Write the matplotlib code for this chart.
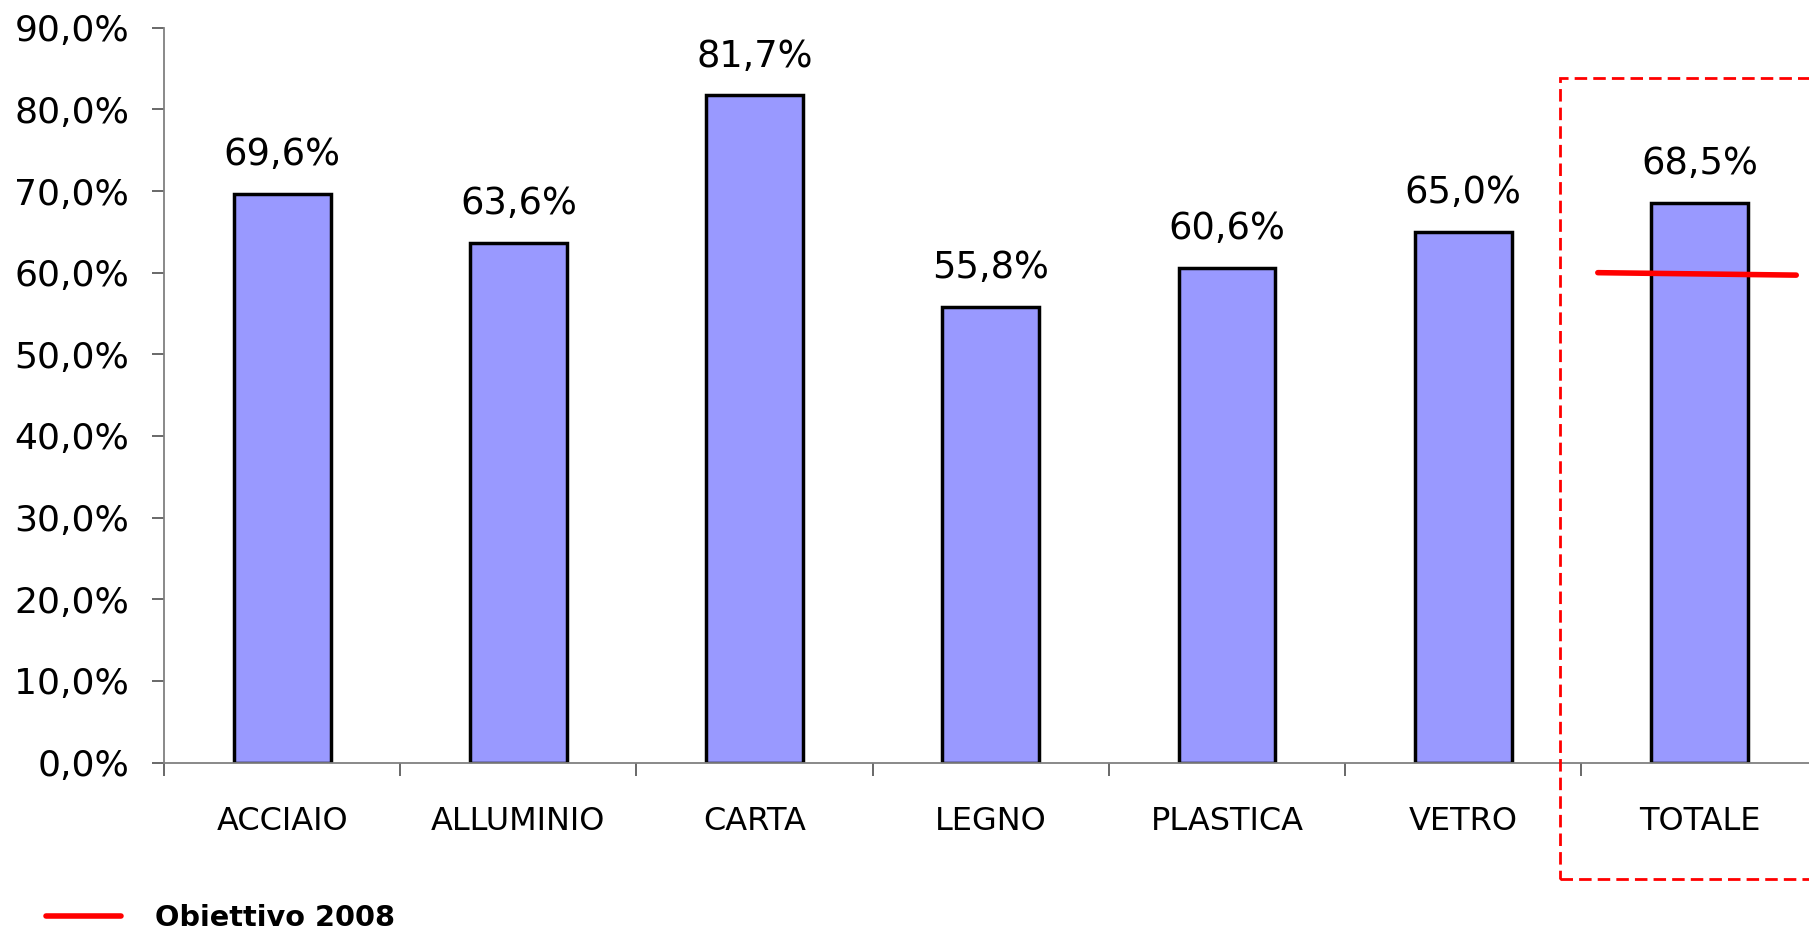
import matplotlib
matplotlib.use('Agg')
import matplotlib.pyplot as plt
from matplotlib.patches import Rectangle

categories = ['ACCIAIO', 'ALLUMINIO', 'CARTA', 'LEGNO', 'PLASTICA', 'VETRO', 'TOTALE']
values = [69.6, 63.6, 81.7, 55.8, 60.6, 65.0, 68.5]
target_y = [60.0, 59.7]  # Obiettivo 2008, drawn over TOTALE
yticks = [0, 10, 20, 30, 40, 50, 60, 70, 80, 90]

plt.rcParams['font.family'] = ['DejaVu Sans']

fig = plt.figure(figsize=(18.09, 9.34), dpi=100)
ax = fig.add_axes([164/1809, 171.4/934, 1653.5/1809, 734.9/934])

x = list(range(len(categories)))
ax.bar(x, values, width=0.41, color='#9999ff', edgecolor='black', linewidth=2.5, zorder=2)

for xi, v in zip(x, values):
    lab = ('%.1f%%' % v).replace('.', ',')
    ax.annotate(lab, (xi, v), xytext=(0, 15), textcoords='offset points',
                ha='center', va='bottom', fontsize=26.5)

# target line on the total bar
tx = x[-1]
line, = ax.plot([tx - 0.43, tx + 0.41], target_y, color='red', lw=4,
                solid_capstyle='round', zorder=3, label='Obiettivo 2008')

# dashed box around TOTALE
box = Rectangle((5.41, -14.3), 1.4, 98.1, fill=False, edgecolor='red', lw=2,
                linestyle=(0, (4.5, 2.2)), clip_on=False, zorder=4)
ax.add_patch(box)

ax.set_xlim(-0.5, len(categories) - 0.5)
ax.set_ylim(0, 90)
ax.set_yticks(yticks)
ax.set_yticklabels([('%.1f%%' % t).replace('.', ',') for t in yticks], fontsize=26)

ax.set_xticks([i - 0.5 for i in range(len(categories) + 1)])
ax.set_xticklabels([])
ax.set_xticks(x, minor=True)
ax.set_xticklabels(categories, minor=True, fontsize=23)
ax.tick_params(axis='x', which='minor', length=0, pad=31)
ax.tick_params(axis='x', which='major', length=9, width=1.1, color='#404040', direction='out')
ax.tick_params(axis='y', length=9, width=1.1, color='#404040', direction='out', pad=16)

for s in ['top', 'right']:
    ax.spines[s].set_visible(False)
for s in ['left', 'bottom']:
    ax.spines[s].set_color('#808080')
    ax.spines[s].set_linewidth(1.3)

fig.legend(handles=[line], loc='center left', bbox_to_anchor=(46/1809, 16/934),
           frameon=False, borderpad=0, borderaxespad=0, handlelength=2.6,
           handletextpad=1.2, prop={'weight': 'bold', 'size': 20.7})

fig.savefig('out.png', dpi=100)
